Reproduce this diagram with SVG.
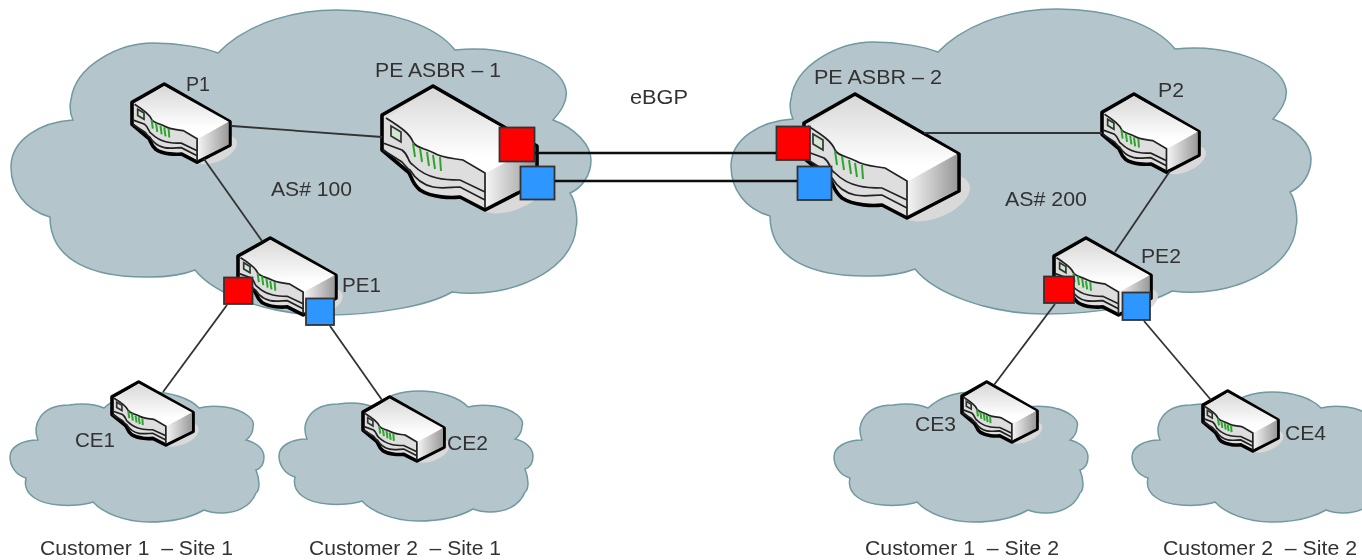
<svg xmlns="http://www.w3.org/2000/svg" xmlns:xlink="http://www.w3.org/1999/xlink" width="1362" height="560" viewBox="0 0 1362 560">
<style>
.cloud{fill:#b4c5cb;stroke:#6f9a9f;stroke-width:1.5}
.thin{fill:none;stroke:#333;stroke-width:1.8}
.thick{fill:none;stroke:#111;stroke-width:2.6}
.red{fill:#f00;stroke:#333;stroke-width:1.8}
.blue{fill:#2f96ff;stroke:#333;stroke-width:1.8}
.out{fill:#dedede;stroke:#000;stroke-width:3.6;stroke-linejoin:round;vector-effect:non-scaling-stroke}
.ln{fill:none;stroke:#222;stroke-width:1.7;vector-effect:non-scaling-stroke}
.gr{fill:none;stroke:#2fa52f;stroke-width:2;vector-effect:non-scaling-stroke}
text{font-family:"Liberation Sans",Arial,sans-serif;font-size:20px;fill:#333;white-space:pre}
</style>
<defs>
<filter id="soft" filterUnits="userSpaceOnUse" x="0" y="0" width="1362" height="560"><feGaussianBlur stdDeviation="0.55"/></filter>
<linearGradient id="top" x1="0" y1="0" x2="0" y2="1"><stop offset="0" stop-color="#d8d8d8"/><stop offset="0.8" stop-color="#fff"/></linearGradient>
<linearGradient id="side" x1="0" y1="0" x2="1" y2="0"><stop offset="0" stop-color="#f6f6f6"/><stop offset="1" stop-color="#999"/></linearGradient>
<path id="big" class="cloud" d="M218,53 C250,20 300,10 337,10 C390,10 435,25 455,50 C500,45 560,60 566,90 C568,102 560,112 553,120 C575,128 591,145 591,160 C591,175 582,188 570,193 C578,205 577,225 576,227 C574,270 510,300 452,292 C430,305 380,315 325,315 C270,315 215,295 195,270 C175,278 155,277 145,277 C95,277 50,262 50,217 C25,210 11,190 11,167 C11,140 40,122 73,120 C68,110 71,100 71,100 C75,65 120,43 153,43 C180,43 205,48 218,53 Z"/>
<path id="small" class="cloud" d="M38,440 C32,425 40,405 69,405 C82,403 95,404 104,408 C115,398 130,392 150,392 C170,392 190,398 199,408 C210,405 218,406 225,407 C245,410 256,420 253,427 C253,432 250,437 246,440 C258,443 264,450 264,457 C264,463 262,468 256,470 C260,480 260,490 256,493 C250,508 235,513 221,513 C215,513 209,512 204,510 C190,518 170,522 149,522 C125,522 103,513 93,502 C85,505 70,506 59,505 C40,504 22,495 26,478 C15,475 10,465 10,457 C10,447 22,440 38,440 Z"/>
<g id="router">
<ellipse cx="130" cy="104" rx="38" ry="20" transform="rotate(-22 130 104)" fill="#d9d9d9"/>
<path class="out" d="M0,29 L51,0 L155,60 L155,97 L103,124 L78,111 C70,112 50,112 38,104 C28,96 30,88 25,85 L0,64 Z"/>
<path d="M4,32 L51,3 L153,60 L103,88 L81,74 C70,72 60,72 52,67 C42,62 34,62 31,56 C28,48 20,42 4,32 Z" fill="url(#top)"/>
<path d="M103,88 L153,60 L153,96 L103,121 Z" fill="url(#side)"/>
<path class="ln" d="M4,32 C20,42 28,48 31,56 C34,62 42,62 52,67 C60,72 70,72 81,74 L103,87 L103,122"/>
<path class="ln" d="M1,57 L20,64 C28,70 25,76 31,79 C38,86 46,90 55,92 C63,94 70,94 78,94 L103,106"/>
<path class="ln" d="M1,64 L20,76 C24,80 24,82 28,84 C34,94 42,99 51,101 C60,103 70,101 78,101 L103,114"/>
<path d="M9,40 L19,46 L19,56 L9,50 Z" fill="#cfe8cf" stroke="#333" stroke-width="1.7" vector-effect="non-scaling-stroke"/>
<path class="gr" d="M31,57 L33,71 M38,62 L40,76 M45,66 L47,80 M51,69 L53,83 M58,71 L59,85"/>
</g>
</defs>
<g filter="url(#soft)">
<g id="clouds">
<use href="#big"/>
<use href="#big" transform="translate(720,-1)"/>
<use href="#small"/>
<use href="#small" transform="translate(269,-1)"/>
<use href="#small" transform="translate(824,0)"/>
<use href="#small" transform="translate(1122,0)"/>
</g>
<g id="P1"><use href="#router" transform="translate(132,84) scale(0.632,0.63)"/></g>
<g id="PE-ASBR-1"><use href="#router" transform="translate(382,86)"/><rect class="red" x="499.500" y="127.500" width="35" height="34"/><rect class="blue" x="520.500" y="166.500" width="34" height="33"/></g>
<g id="PE1"><use href="#router" transform="translate(238,238) scale(0.632,0.62)"/><rect class="red" x="224" y="277.500" width="28.500" height="26.500"/><rect class="blue" x="306" y="298.500" width="28" height="26.500"/></g>
<g id="PE-ASBR-2"><use href="#router" transform="translate(804,94) scale(1,1)"/><rect class="red" x="776.500" y="126.500" width="33.500" height="33.500"/><rect class="blue" x="797.500" y="166.500" width="34" height="33.500"/></g>
<g id="P2"><use href="#router" transform="translate(1102,94) scale(0.626,0.63)"/></g>
<g id="PE2"><use href="#router" transform="translate(1054,238) scale(0.626,0.62)"/><rect class="red" x="1044" y="276.500" width="30" height="26.500"/><rect class="blue" x="1122.500" y="292.500" width="27.500" height="27.500"/></g>
<g id="CE1"><use href="#router" transform="translate(112,382) scale(0.523,0.508)"/></g>
<g id="CE2"><use href="#router" transform="translate(363,397) scale(0.523,0.516)"/></g>
<g id="CE3"><use href="#router" transform="translate(962,382) scale(0.484,0.484)"/></g>
<g id="CE4"><use href="#router" transform="translate(1203,391) scale(0.484,0.484)"/></g>
<g id="connectors">
<line class="thin" x1="232" y1="126" x2="382" y2="137"/>
<line class="thin" x1="204" y1="159" x2="262" y2="241"/>
<line class="thin" x1="227" y1="305" x2="163" y2="392"/>
<line class="thin" x1="330" y1="326" x2="382" y2="400"/>
<line class="thick" x1="535" y1="153" x2="776" y2="153"/>
<line class="thick" x1="555" y1="181" x2="797" y2="181"/>
<line class="thin" x1="924" y1="133" x2="1102" y2="133"/>
<line class="thin" x1="1170" y1="171" x2="1115" y2="252"/>
<line class="thin" x1="1055" y1="304" x2="994" y2="385"/>
<line class="thin" x1="1144" y1="321" x2="1211" y2="400"/>
</g>
<g id="labels">
<text x="186" y="91" textLength="24" lengthAdjust="spacingAndGlyphs">P1</text>
<text x="375" y="77" textLength="126" lengthAdjust="spacingAndGlyphs">PE ASBR – 1</text>
<text x="271" y="196" textLength="81" lengthAdjust="spacingAndGlyphs">AS# 100</text>
<text x="342" y="292" textLength="39" lengthAdjust="spacingAndGlyphs">PE1</text>
<text x="630" y="104" textLength="58" lengthAdjust="spacingAndGlyphs">eBGP</text>
<text x="814" y="84" textLength="128" lengthAdjust="spacingAndGlyphs">PE ASBR – 2</text>
<text x="1158" y="97" textLength="26" lengthAdjust="spacingAndGlyphs">P2</text>
<text x="1005" y="206" textLength="82" lengthAdjust="spacingAndGlyphs">AS# 200</text>
<text x="1141" y="263" textLength="40" lengthAdjust="spacingAndGlyphs">PE2</text>
<text x="75" y="447" textLength="40" lengthAdjust="spacingAndGlyphs">CE1</text>
<text x="447" y="450" textLength="41" lengthAdjust="spacingAndGlyphs">CE2</text>
<text x="915" y="431" textLength="41" lengthAdjust="spacingAndGlyphs">CE3</text>
<text x="1285" y="440" textLength="41" lengthAdjust="spacingAndGlyphs">CE4</text>
<text x="40" y="555" textLength="193" lengthAdjust="spacingAndGlyphs">Customer 1  – Site 1</text>
<text x="309" y="555" textLength="192" lengthAdjust="spacingAndGlyphs">Customer 2  – Site 1</text>
<text x="865" y="555" textLength="194" lengthAdjust="spacingAndGlyphs">Customer 1  – Site 2</text>
<text x="1163" y="555" textLength="194" lengthAdjust="spacingAndGlyphs">Customer 2  – Site 2</text>
</g>
</g>
</svg>
